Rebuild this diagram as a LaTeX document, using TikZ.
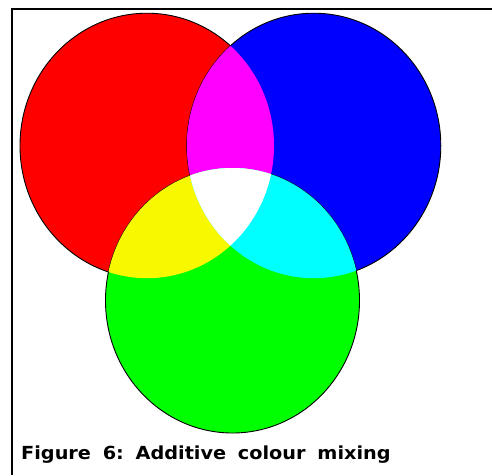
\documentclass[tikz,border=0pt]{standalone}
\usepackage{fontspec}
\usetikzlibrary{shapes.geometric}
\setsansfont{DejaVu Sans}
\definecolor{myyellow}{RGB}{248,248,0}
\definecolor{mymagenta}{RGB}{255,0,255}
\definecolor{mycyan}{RGB}{0,255,255}
\begin{document}
\begin{tikzpicture}[x=1pt,y=-1pt]
		\begin{scope}[scale=1]
		
		\tikzstyle{disc}=[ellipse,
		draw=black,
		line width=0.9pt,
		inner sep=0pt,
		minimum width=254pt,
		minimum height=265pt
		]
		\tikzstyle{blob}=[x radius=127pt, y radius=132.5pt]
		\tikzstyle{caption}=[anchor=base west,
		inner sep=0pt,
		font=\sffamily\bfseries\fontsize{18}{20}\selectfont,
		xscale=1.07
		]
		
		\useasboundingbox (0,0) rectangle (492,475);
		
		\coordinate (pr) at (147, 145.7);
		\coordinate (pb) at (313.8, 145.7);
		\coordinate (pg) at (232.5, 300.5);
		\coordinate (fa) at (12, 475);
		\coordinate (fb) at (12, 9);
		\coordinate (fc) at (492, 9);
		
		% frame
		\draw[line width=2.2pt] (fa) -- (fb) -- (fc);
		
		\node[disc, fill=red] (red) at (pr) {};
		\node[disc, fill=blue] (blue) at (pb) {};
		\node[disc, fill=green] (green) at (pg) {};
		
		% overlaps
		\begin{scope}
		\clip (pr) ellipse [blob];
		\fill[mymagenta] (pb) ellipse [blob];
		\fill[myyellow] (pg) ellipse [blob];
		\clip (pb) ellipse [blob];
		\fill[white] (pg) ellipse [blob];
		\end{scope}
		\begin{scope}
		\clip (pb) ellipse [blob];
		\clip (pg) ellipse [blob];
		\fill[mycyan] (pr) ++(-200,-200) rectangle ++(500,500);
		\clip (pr) ellipse [blob];
		\fill[white] (pg) ellipse [blob];
		\end{scope}
		
		\node[caption] (cap) at (21, 459) {Figure\hspace{11pt}6:\hspace{11pt}Additive\hspace{11pt}colour\hspace{11pt}mixing};
		
		\end{scope}
		\end{tikzpicture}
\end{document}
